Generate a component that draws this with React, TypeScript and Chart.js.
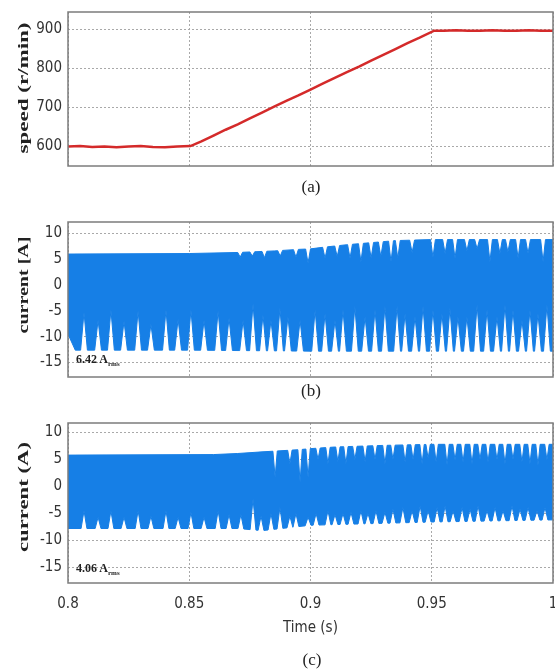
import React, { useEffect, useRef } from "react";
import { Chart, registerables } from "chart.js";

Chart.register(...registerables);

// ---- shared axis data ----
const timeTicks = [0.8, 0.85, 0.9, 0.95, 1.0];
const timeTickLabels = ["0.8", "0.85", "0.9", "0.95", "1"];

// ---- (a) rotor speed ----
const speedTime = [
  0.8, 0.805, 0.81, 0.815, 0.82, 0.825, 0.83, 0.835, 0.84, 0.845, 0.8505,
  0.855, 0.86, 0.865, 0.87, 0.875, 0.88, 0.885, 0.89, 0.895, 0.9, 0.905,
  0.91, 0.915, 0.92, 0.925, 0.93, 0.935, 0.94, 0.945, 0.951, 0.955, 0.96,
  0.965, 0.97, 0.975, 0.98, 0.985, 0.99, 0.995, 1.0,
];
const speedRpm = [
  600, 601, 599, 600, 598, 600, 601, 599, 598, 600, 601,
  613, 628, 643, 657, 672, 687, 702, 717, 731, 746, 761,
  776, 791, 805, 820, 835, 850, 865, 879, 897, 897, 898,
  897, 897, 898, 897, 897, 898, 897, 897,
];
const speedTicks = [600, 700, 800, 900];

// ---- (b) current, envelope of the stator current ----
const currentTicks = [10, 5, 0, -5, -10, -15];

const bUpperBaseT = [0.8, 0.85, 0.87, 0.885, 0.895, 0.9, 0.905, 0.915, 0.925, 0.935, 0.95, 1.0];
const bUpperBaseV = [6.0, 6.1, 6.3, 6.6, 6.9, 7.0, 7.3, 7.8, 8.2, 8.6, 8.8, 8.8];
const bUpperDipT = [
  0.871, 0.876, 0.881, 0.8875, 0.894, 0.899, 0.906, 0.911, 0.9163, 0.9208,
  0.925, 0.929, 0.9332, 0.936, 0.9419, 0.9505, 0.9555, 0.9596, 0.9645,
  0.9687, 0.974, 0.9781, 0.9814, 0.9856, 0.9897, 0.9959,
];
const bUpperDipV = [
  5.4, 5.6, 5.3, 5.6, 5.4, 4.2, 5.2, 5.5, 5.2, 4.5,
  5.2, 5.5, 4.5, 5.2, 6.3, 5.4, 6.1, 5.2, 6.6,
  7.0, 4.5, 6.1, 6.4, 5.2, 6.1, 4.5,
];
const bLowerBaseT = [0.8, 0.803, 0.85, 0.9, 0.95, 1.0];
const bLowerBaseV = [-9.5, -12.6, -12.6, -12.8, -12.8, -12.8];
const bLowerSpikeT = [
  0.8066, 0.8124, 0.8177, 0.8231, 0.8289, 0.8342, 0.8404, 0.8454, 0.8507,
  0.8561, 0.8619, 0.8664, 0.8722, 0.8763, 0.8804, 0.8837, 0.8874, 0.8907,
  0.8957, 0.9019, 0.906, 0.9101, 0.9134, 0.9183, 0.9225, 0.9266, 0.9307,
  0.9357, 0.939, 0.9431, 0.9464, 0.9505, 0.9542, 0.9575, 0.9608, 0.9645,
  0.9687, 0.9728, 0.9769, 0.9802, 0.9835, 0.9872, 0.9905, 0.9938, 0.9975,
];
const bLowerSpikeV = [
  -5.3, -6.8, -4.8, -7.0, -5.0, -7.6, -4.8, -6.6, -4.8,
  -6.8, -5.0, -6.4, -6.8, -3.6, -5.8, -6.8, -4.5, -6.1,
  -6.8, -4.8, -5.5, -6.8, -4.8, -4.1, -6.1, -4.8, -4.1,
  -4.1, -5.5, -6.1, -4.1, -4.8, -5.5, -4.5, -6.1, -6.1,
  -3.8, -4.8, -6.1, -3.8, -4.8, -6.8, -4.8, -5.5, -3.8,
];

// ---- (c) current with the proposed control ----
const cUpperBaseT = [0.8, 0.86, 0.87, 0.88, 0.895, 0.9, 0.91, 0.93, 0.95, 1.0];
const cUpperBaseV = [5.8, 5.9, 6.1, 6.4, 6.8, 7.0, 7.3, 7.6, 7.8, 7.8];
const cUpperDipT = [
  0.8854, 0.8915, 0.8957, 0.899, 0.9031, 0.9072, 0.9113, 0.9146, 0.9183,
  0.9225, 0.9266, 0.9307, 0.934, 0.939, 0.9423, 0.946, 0.9485, 0.9518,
  0.9563, 0.9596, 0.9629, 0.9666, 0.9699, 0.9732, 0.9769, 0.9802, 0.9835,
  0.9872, 0.9905, 0.9938, 0.9975,
];
const cUpperDipV = [
  1.7, 4.2, 0.8, 1.7, 5.0, 4.2, 4.6, 4.2, 5.0,
  4.6, 5.0, 4.2, 5.0, 4.5, 4.9, 4.2, 5.2, 4.5,
  4.0, 4.9, 4.5, 4.2, 5.0, 4.5, 4.9, 4.2, 5.0,
  4.5, 4.2, 3.9, 4.9,
];
const cLowerBaseT = [0.8, 0.87, 0.88, 0.9, 0.95, 1.0];
const cLowerBaseV = [-7.8, -7.8, -8.2, -7.2, -6.6, -6.2];
const cLowerSpikeT = [
  0.8066, 0.8124, 0.8177, 0.8231, 0.8289, 0.8342, 0.8404, 0.8454, 0.8507,
  0.8561, 0.8619, 0.8664, 0.8713, 0.8763, 0.8796, 0.8837, 0.8874, 0.8915,
  0.894, 0.899, 0.9023, 0.9072, 0.9101, 0.9134, 0.9167, 0.9208, 0.9237,
  0.927, 0.9307, 0.9340, 0.9381, 0.9419, 0.9452, 0.9485, 0.9522, 0.9555,
  0.9588, 0.9625, 0.9658, 0.9691, 0.9728, 0.9761, 0.9794, 0.9831, 0.9864,
  0.9897, 0.9934, 0.9967,
];
const cLowerSpikeV = [
  -4.5, -5.7, -4.5, -5.7, -4.5, -5.5, -4.5, -5.7, -4.8,
  -5.7, -4.5, -5.2, -5.2, -2.3, -5.5, -5.0, -3.9, -5.5,
  -5.0, -5.7, -5.0, -4.5, -5.2, -5.0, -4.8, -4.5, -5.0,
  -4.5, -4.8, -4.2, -3.9, -4.5, -3.6, -4.5, -3.9, -3.6,
  -4.5, -3.9, -4.2, -3.6, -4.5, -3.9, -4.5, -3.6, -4.2,
  -3.9, -4.5, -3.9,
];

type Pt = { x: number; y: number };

// Envelope line: a base curve with narrow triangular excursions at the given times.
function envelope(
  baseT: number[],
  baseV: number[],
  spikeT: number[],
  spikeV: number[],
  half: number
): Pt[] {
  const baseAt = (t: number) => {
    if (t <= baseT[0]) return baseV[0];
    for (let i = 1; i < baseT.length; i++) {
      if (t <= baseT[i]) {
        const f = (t - baseT[i - 1]) / (baseT[i] - baseT[i - 1]);
        return baseV[i - 1] + f * (baseV[i] - baseV[i - 1]);
      }
    }
    return baseV[baseV.length - 1];
  };
  const pts: Pt[] = [];
  baseT.forEach((t, i) => {
    if (!spikeT.some((s) => Math.abs(s - t) < half)) pts.push({ x: t, y: baseV[i] });
  });
  spikeT.forEach((s, i) => {
    pts.push({ x: s - half, y: baseAt(s - half) });
    pts.push({ x: s, y: spikeV[i] });
    pts.push({ x: s + half, y: baseAt(s + half) });
  });
  pts.sort((a, b) => a.x - b.x);
  return pts;
}

const TICK_FONT = {
  family: "'Liberation Sans Narrow', 'Arial Narrow', 'DejaVu Sans Condensed', sans-serif",
  size: 15,
};
const GRID = "#a9a9a9";
const BLUE = "#167fe6";

const framePlugin = {
  id: "frame",
  afterDatasetsDraw(chart: any) {
    const { ctx, chartArea: a } = chart;
    ctx.save();
    ctx.strokeStyle = "#7c7c7c";
    ctx.lineWidth = 1.5;
    ctx.strokeRect(a.left, a.top, a.right - a.left, a.bottom - a.top);
    ctx.restore();
  },
};

function panelOptions(opts: {
  yMin: number;
  yMax: number;
  yTicks: number[];
  padTop: number;
  xHeight: number;
  showX: boolean;
}) {
  return {
    responsive: false,
    animation: false as const,
    layout: { autoPadding: false, padding: { top: opts.padTop, right: 2, left: 0, bottom: 0 } },
    plugins: { legend: { display: false }, tooltip: { enabled: false } },
    elements: { point: { radius: 0 }, line: { tension: 0 } },
    scales: {
      x: {
        type: "linear" as const,
        min: 0.8,
        max: 1.0,
        afterBuildTicks: (s: any) => {
          s.ticks = timeTicks.map((v) => ({ value: v }));
        },
        afterFit: (s: any) => {
          s.height = opts.xHeight;
          s.paddingLeft = 0;
          s.paddingRight = 0;
        },
        ticks: {
          display: opts.showX,
          autoSkip: false,
          maxRotation: 0,
          padding: 12,
          color: "#333",
          font: TICK_FONT,
          callback: (v: number) => timeTickLabels[timeTicks.indexOf(v)],
        },
        grid: { color: GRID, drawTicks: false, lineWidth: 1 },
        border: { display: false, dash: [2, 2] },
        title: opts.showX
          ? {
              display: true,
              text: "Time (s)",
              color: "#333",
              font: TICK_FONT,
              padding: { top: 0, bottom: 34 },
            }
          : { display: false },
      },
      y: {
        type: "linear" as const,
        min: opts.yMin,
        max: opts.yMax,
        afterBuildTicks: (s: any) => {
          s.ticks = opts.yTicks.map((v) => ({ value: v }));
        },
        afterFit: (s: any) => {
          s.width = 68;
          s.paddingTop = 0;
          s.paddingBottom = 0;
        },
        ticks: { padding: 6, color: "#333", font: TICK_FONT, callback: (v: number) => String(v) },
        grid: { color: GRID, drawTicks: false, lineWidth: 1 },
        border: { display: false, dash: [2, 2] },
      },
    },
  };
}

function currentDatasets(upper: Pt[], lower: Pt[]) {
  return [
    {
      data: upper,
      fill: "+1",
      backgroundColor: BLUE,
      borderColor: BLUE,
      borderWidth: 1,
      pointRadius: 0,
    },
    {
      data: lower,
      fill: false,
      borderColor: BLUE,
      borderWidth: 1,
      pointRadius: 0,
    },
  ];
}

export default function App() {
  const refA = useRef<HTMLCanvasElement>(null);
  const refB = useRef<HTMLCanvasElement>(null);
  const refC = useRef<HTMLCanvasElement>(null);

  useEffect(() => {
    const charts: Chart[] = [];

    charts.push(
      new Chart(refA.current!, {
        type: "line",
        data: {
          datasets: [
            {
              data: speedTime.map((t, i) => ({ x: t, y: speedRpm[i] })),
              borderColor: "#d42a2a",
              borderWidth: 2.5,
              pointRadius: 0,
              fill: false,
            },
          ],
        },
        options: panelOptions({ yMin: 550, yMax: 945, yTicks: speedTicks, padTop: 12, xHeight: 34, showX: false }) as any,
        plugins: [framePlugin],
      })
    );

    charts.push(
      new Chart(refB.current!, {
        type: "line",
        data: {
          datasets: currentDatasets(
            envelope(bUpperBaseT, bUpperBaseV, bUpperDipT, bUpperDipV, 0.001),
            envelope(bLowerBaseT, bLowerBaseV, bLowerSpikeT, bLowerSpikeV, 0.0014)
          ) as any,
        },
        options: panelOptions({ yMin: -17.8, yMax: 12.2, yTicks: currentTicks, padTop: 22, xHeight: 23, showX: false }) as any,
        plugins: [framePlugin],
      })
    );

    charts.push(
      new Chart(refC.current!, {
        type: "line",
        data: {
          datasets: currentDatasets(
            envelope(cUpperBaseT, cUpperBaseV, cUpperDipT, cUpperDipV, 0.0009),
            envelope(cLowerBaseT, cLowerBaseV, cLowerSpikeT, cLowerSpikeV, 0.0012)
          ) as any,
        },
        options: panelOptions({ yMin: -17.9, yMax: 11.75, yTicks: currentTicks, padTop: 23, xHeight: 88, showX: true }) as any,
        plugins: [framePlugin],
      })
    );

    return () => charts.forEach((c) => c.destroy());
  }, []);

  const serif = "'Liberation Serif', 'Times New Roman', serif";

  return (
    <div style={{ position: "absolute", left: 0, top: 0, width: 555, height: 671, background: "#fff", overflow: "hidden" }}>
      <canvas ref={refA} width={555} height={200} style={{ position: "absolute", left: 0, top: 0 }} />
      <canvas ref={refB} width={555} height={200} style={{ position: "absolute", left: 0, top: 200 }} />
      <canvas ref={refC} width={555} height={271} style={{ position: "absolute", left: 0, top: 400 }} />
      <svg width={555} height={671} style={{ position: "absolute", left: 0, top: 0, pointerEvents: "none" }}>
        <g fontFamily={serif} fontWeight="bold" fontSize={14} fill="#222">
          <text transform="translate(23,88) rotate(-90)" textAnchor="middle" dominantBaseline="central" textLength={131} lengthAdjust="spacingAndGlyphs">
            speed (r/min)
          </text>
          <text transform="translate(23,285) rotate(-90)" textAnchor="middle" dominantBaseline="central" textLength={97} lengthAdjust="spacingAndGlyphs">
            current [A]
          </text>
          <text transform="translate(23,497) rotate(-90)" textAnchor="middle" dominantBaseline="central" textLength={110} lengthAdjust="spacingAndGlyphs">
            current (A)
          </text>
        </g>
        <g fontFamily={serif} fontSize={17} fill="#222" textAnchor="middle" dominantBaseline="central">
          <text x={311} y={186}>(a)</text>
          <text x={311} y={390}>(b)</text>
          <text x={312} y={659}>(c)</text>
        </g>
        <g fontFamily={serif} fontWeight="bold" fontSize={12} fill="#222">
          <text x={76} y={363}>
            6.42 A<tspan fontSize={7} dy={3}>rms</tspan>
          </text>
          <text x={76} y={572}>
            4.06 A<tspan fontSize={7} dy={3}>rms</tspan>
          </text>
        </g>
      </svg>
    </div>
  );
}
